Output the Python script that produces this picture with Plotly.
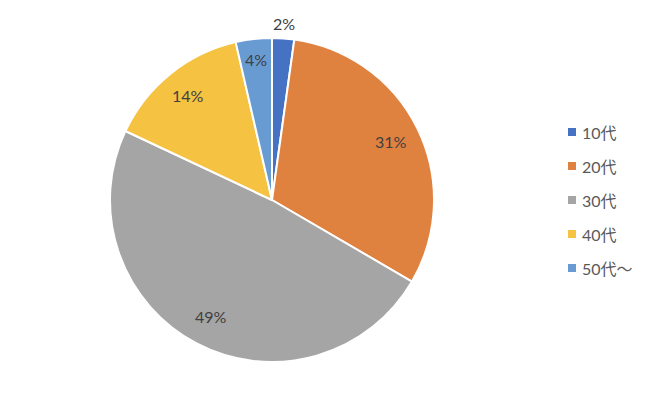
import math
import plotly.graph_objects as go

categories = ["10代", "20代", "30代", "40代", "50代～"]
values = [2.2, 31.2, 48.6, 14.4, 3.6]
colors = ["#4672c4", "#e0823f", "#a5a5a5", "#f5c242", "#699bd3"]
# radial placement of each percentage label, as fraction of the pie radius
label_radius = [1.09, 0.82, 0.81, 0.83, 0.87]

FONT = "Lato, 'Noto Sans CJK JP', sans-serif"
W, H = 650, 400
CX, CY, R = 272, 200, 162  # pie centre / radius in pixels

fig = go.Figure()
fig.add_trace(go.Pie(
    labels=categories,
    values=values,
    sort=False,
    direction="clockwise",
    rotation=0,
    marker=dict(colors=colors, line=dict(color="white", width=2)),
    textinfo="none",
    domain=dict(x=[(CX - R) / W, (CX + R) / W], y=[(H - CY - R) / H, (H - CY + R) / H]),
    showlegend=False,
    hoverinfo="label+percent",
))

# Percentage labels placed at slice mid-angles
total = sum(values)
cum = 0.0
for v, rf in zip(values, label_radius):
    mid = (cum + v / 2) / total * 2 * math.pi
    cum += v
    px = CX + rf * R * math.sin(mid)
    py = CY - rf * R * math.cos(mid)
    fig.add_annotation(xref="paper", yref="paper", x=px / W, y=1 - py / H,
                       text=f"{round(v / total * 100)}%", showarrow=False,
                       xanchor="center", yanchor="middle",
                       font=dict(family=FONT, size=16, color="#404040"))

# Manual legend (vertical, right side)
y0 = 132
step = 34
for i, (cat, col) in enumerate(zip(categories, colors)):
    yc = y0 + i * step
    fig.add_shape(type="rect", xref="paper", yref="paper",
                  x0=568 / W, x1=576 / W,
                  y0=1 - (yc + 4) / H, y1=1 - (yc - 4) / H,
                  fillcolor=col, line=dict(width=0))
    fig.add_annotation(xref="paper", yref="paper", x=580 / W, y=1 - yc / H,
                       text=cat, showarrow=False, xanchor="left", yanchor="middle",
                       font=dict(family=FONT, size=16, color="#595959"))

fig.update_layout(
    width=W, height=H,
    margin=dict(l=0, r=0, t=0, b=0),
    paper_bgcolor="white",
    plot_bgcolor="white",
    font=dict(family=FONT),
)

fig.write_html("out.html", config={"displayModeBar": False},
               post_script="document.body.style.margin='0';")
